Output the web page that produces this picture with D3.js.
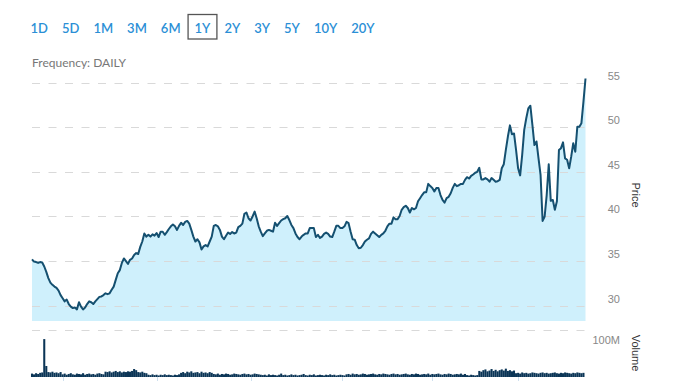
<!DOCTYPE html>
<html>
<head>
<meta charset="utf-8">
<script src="https://cdn.jsdelivr.net/npm/d3@7/dist/d3.min.js"></script>
<style>
  body { margin: 0; background: #fff; }
  svg { display: block; }
</style>
</head>
<body>
<svg width="678" height="381"></svg>
<script>
// range buttons across the top
var ranges = ["1D", "5D", "1M", "3M", "6M", "1Y", "2Y", "3Y", "5Y", "10Y", "20Y"];
var activeRange = "1Y";

// daily closing price, one value per trading day
var prices = [
  35.2, 34.95, 34.9, 34.8, 34.9, 34.85, 34.4, 33.8, 33.1, 32.6,
  32.35, 32.15, 32.0, 31.7, 31.2, 30.85, 30.5, 30.7, 30.2, 29.9,
  29.75, 29.8, 29.6, 30.4, 29.9, 29.6, 29.8, 30.2, 30.5, 30.4,
  30.2, 30.5, 30.75, 31.0, 31.05, 31.2, 31.4, 31.3, 31.4, 31.8,
  32.15, 32.9, 33.65, 34.0, 34.8, 35.3, 35.0, 34.7, 35.15, 35.3,
  35.7, 35.9, 35.8, 36.6, 37.2,
  38.1, 37.75, 37.95, 37.75, 38.0, 37.85, 38.15, 37.7, 38.3, 38.3,
  37.95, 38.25, 38.6, 38.9, 39.1, 38.9, 38.5, 38.95, 39.3, 39.05,
  39.4, 39.5, 39.2, 38.5, 37.75, 37.2, 37.45, 37.1, 36.3, 36.65,
  36.8, 36.65, 37.2, 37.75, 38.95, 39.05, 38.9, 38.5, 37.75, 37.45,
  37.85, 38.2, 38.05, 38.25, 38.1, 38.2,
  38.8, 38.95, 39.2, 40.3, 40.45, 39.8, 39.55, 40.0, 40.55, 39.8, 38.9,
  38.3, 37.8, 38.1, 38.4, 38.5, 38.4, 38.3, 39.3, 38.95, 39.25,
  39.55, 39.7, 39.8, 40.05, 39.6, 39.05, 38.7, 38.1, 37.7, 37.45,
  37.75, 37.95, 38.1, 38.1, 38.7, 38.7, 38.7, 37.7, 37.95, 37.6,
  37.75, 38.05, 38.2, 38.05, 37.75, 37.7, 38.3, 38.95, 38.95, 38.7,
  38.7, 38.9, 39.4, 39.25, 38.3, 37.45, 37.4, 36.8, 36.45, 36.5,
  36.8, 37.2, 37.4, 37.55, 38.05, 38.3, 38.1, 37.9, 37.7, 37.95,
  38.1, 38.4, 38.9, 39.2, 39.2, 39.9, 39.7, 39.7, 40.05, 40.75,
  41.05, 41.2, 40.95, 40.45, 40.95, 40.8, 40.95, 41.7, 42.05, 42.4,
  42.7, 42.7, 43.65, 43.4, 43.2, 42.8, 43.2, 43.2, 42.4, 41.85,
  41.55, 42.05, 42.2, 42.6, 43.2, 43.65, 43.4, 43.5, 43.65, 43.65,
  44.1, 44.4, 44.25, 44.55, 44.7, 44.9, 45.0, 45.45, 44.15, 44.15,
  44.3, 44.15, 43.9, 44.3, 44.1, 43.9, 43.95, 44.1, 45.4, 45.85,
  47.45, 48.95, 50.2, 49.2, 49.3, 47.45, 45.4, 44.6, 46.9, 49.7,
  51.0, 52.1, 52.4, 50.25, 48.0, 48.4, 46.5, 44.65, 39.5, 40.0,
  42.4, 45.85, 41.75, 41.85, 40.75, 41.7, 47.45, 47.65, 48.3, 46.5,
  46.35, 45.4, 46.7, 48.2, 47.25, 50.05, 50.05, 50.45, 52.85, 55.45
];

// daily volume, millions of shares
var volumes = [
  9, 7, 10, 8, 11, 12,
  100,
  29,
  13, 12, 14, 11, 12, 10, 13,
  7, 9, 6, 8, 10, 7, 6, 9, 8, 7, 10, 6, 8, 9, 7, 8, 6, 9, 10, 8, 7,
  14, 13, 15, 12, 14, 16, 13, 15, 12, 14, 13, 15, 14, 16,
  21, 18, 13,
  12, 14, 11, 10,
  6, 5, 7, 5, 6, 4, 6, 5, 7, 5, 6, 5, 4, 6, 5, 7,
  11, 13, 10, 14, 12, 15, 11, 12, 13, 10, 14, 11, 12, 10, 13, 11,
  8, 7, 9, 6, 8, 7, 9, 8, 6, 7, 9, 8, 7, 6, 8, 9, 7, 8, 6, 7, 9, 8, 7, 6,
  5, 6, 4, 7, 5, 6, 5, 4, 6, 9, 5, 6, 4, 5, 7, 5, 6, 4, 5, 6,
  8, 5, 4, 6, 5, 7, 4, 5, 6, 5, 4, 6, 5, 7, 5, 6, 4, 5, 6, 5, 4,
  7, 8, 6, 9, 7, 8, 6, 7, 9, 8, 6, 7, 8, 9, 7, 6, 8, 7, 9, 8,
  7, 6, 8, 9, 7, 8, 6, 7, 8, 9, 7, 6, 8, 7, 9, 8, 6, 7, 8, 7,
  9, 6, 8, 7, 8, 9, 7, 6, 8, 7, 9, 8, 6, 7, 8, 7, 9, 6, 8,
  5, 4, 6, 5, 4, 5,
  16, 14, 18, 20, 15, 17, 21, 16, 19, 15, 18, 20, 17, 22, 16, 18, 15, 17,
  10, 11, 9, 12, 10, 11, 9, 10, 12, 11, 10, 9, 11, 12, 10, 11, 9,
  10, 11, 12, 10, 9, 11, 10, 12, 11, 10, 9, 11, 10, 12, 11, 10, 11
];

var priceTicks = [30, 35, 40, 45, 50, 55];
var volumeTicks = [100];
var monthTicks = [15, 61, 107, 152, 196, 238]; // trading-day index of the faint date ticks

var svg = d3.select("svg"),
    left = 32, right = 585.5;

var x = d3.scaleLinear()
    .domain([0, prices.length - 1])
    .range([left, right]);

var y = d3.scaleLinear()
    .domain([28.3, 55])
    .range([321, 82.5]);

var yv = d3.scaleLinear()
    .domain([0, 124])
    .range([377, 330]);

// range selector - laid out one after the other like inline buttons
var btn = svg.append("g")
    .attr("font-family", "Lato, sans-serif")
    .attr("font-size", 13)
    .attr("font-weight", 600);

var labels = btn.selectAll("text")
    .data(ranges)
    .enter().append("text")
    .attr("y", 33)
    .attr("fill", "#2b8fd6")
    .text(function (d) { return d; });

var cx = 30.5;
labels.each(function (d) {
    var w = this.getComputedTextLength();
    d3.select(this).attr("x", cx);
    if (d == activeRange) {
        btn.insert("rect", "text")
            .attr("x", cx - 6.5)
            .attr("y", 14.5)
            .attr("width", w + 13)
            .attr("height", 24.5)
            .attr("fill", "#fff")
            .attr("stroke", "#555")
            .attr("stroke-width", 1.3);
    }
    cx += w + 14;
});

svg.append("text")
    .attr("x", 32)
    .attr("y", 67)
    .attr("font-family", "Lato, sans-serif")
    .attr("font-size", 12)
    .attr("fill", "#777")
    .text("Frequency: DAILY");

// price area + line
var area = d3.area()
    .x(function (d, i) { return x(i); })
    .y0(321)
    .y1(function (d) { return y(d); });

var line = d3.line()
    .x(function (d, i) { return x(i); })
    .y(function (d) { return y(d); });

svg.append("path")
    .datum(prices)
    .attr("d", area)
    .attr("fill", "#cff0fc");

// dashed grid
svg.append("g")
    .selectAll("line")
    .data(priceTicks)
    .enter().append("line")
    .attr("x1", left)
    .attr("x2", right)
    .attr("y1", function (d) { return Math.round(y(d)) + 0.5; })
    .attr("y2", function (d) { return Math.round(y(d)) + 0.5; })
    .attr("stroke", "#d9d9d9")
    .attr("stroke-dasharray", "8,8.5");

svg.append("line")
    .attr("x1", left)
    .attr("x2", right)
    .attr("y1", 330.5)
    .attr("y2", 330.5)
    .attr("stroke", "#d9d9d9")
    .attr("stroke-dasharray", "8,8.5");

svg.append("path")
    .datum(prices)
    .attr("d", line)
    .attr("fill", "none")
    .attr("stroke", "#155070")
    .attr("stroke-width", 2)
    .attr("stroke-linejoin", "round");

// volume bars
var bw = (right - left) / (volumes.length - 1);

svg.append("g")
    .selectAll("rect")
    .data(volumes)
    .enter().append("rect")
    .attr("x", function (d, i) { return x(i) - bw / 2; })
    .attr("y", function (d) { return yv(d); })
    .attr("width", bw)
    .attr("height", function (d) { return 377 - yv(d); })
    .attr("fill", "#0b3556");

svg.append("g")
    .selectAll("line")
    .data(monthTicks)
    .enter().append("line")
    .attr("x1", function (d) { return Math.round(x(d)) + 0.5; })
    .attr("x2", function (d) { return Math.round(x(d)) + 0.5; })
    .attr("y1", 377)
    .attr("y2", 381)
    .attr("stroke", "#cfe0ee");

// right axes labels
var axisFont = "Liberation Sans, Arial, sans-serif";

svg.append("g")
    .selectAll("text")
    .data(priceTicks)
    .enter().append("text")
    .attr("x", 620)
    .attr("y", function (d) { return y(d) - 3; })
    .attr("text-anchor", "end")
    .attr("font-family", axisFont)
    .attr("font-size", 11)
    .attr("fill", "#888")
    .text(function (d) { return d; });

svg.append("g")
    .selectAll("text")
    .data(volumeTicks)
    .enter().append("text")
    .attr("x", 620)
    .attr("y", function (d) { return yv(d) + 5; })
    .attr("text-anchor", "end")
    .attr("font-family", axisFont)
    .attr("font-size", 11)
    .attr("fill", "#888")
    .text(function (d) { return d + "M"; });

svg.append("text")
    .attr("transform", "translate(632,195) rotate(90)")
    .attr("text-anchor", "middle")
    .attr("font-family", axisFont)
    .attr("font-size", 11)
    .attr("fill", "#333")
    .text("Price");

svg.append("text")
    .attr("transform", "translate(632,353) rotate(90)")
    .attr("text-anchor", "middle")
    .attr("font-family", axisFont)
    .attr("font-size", 11)
    .attr("fill", "#333")
    .text("Volume");
</script>
</body>
</html>
